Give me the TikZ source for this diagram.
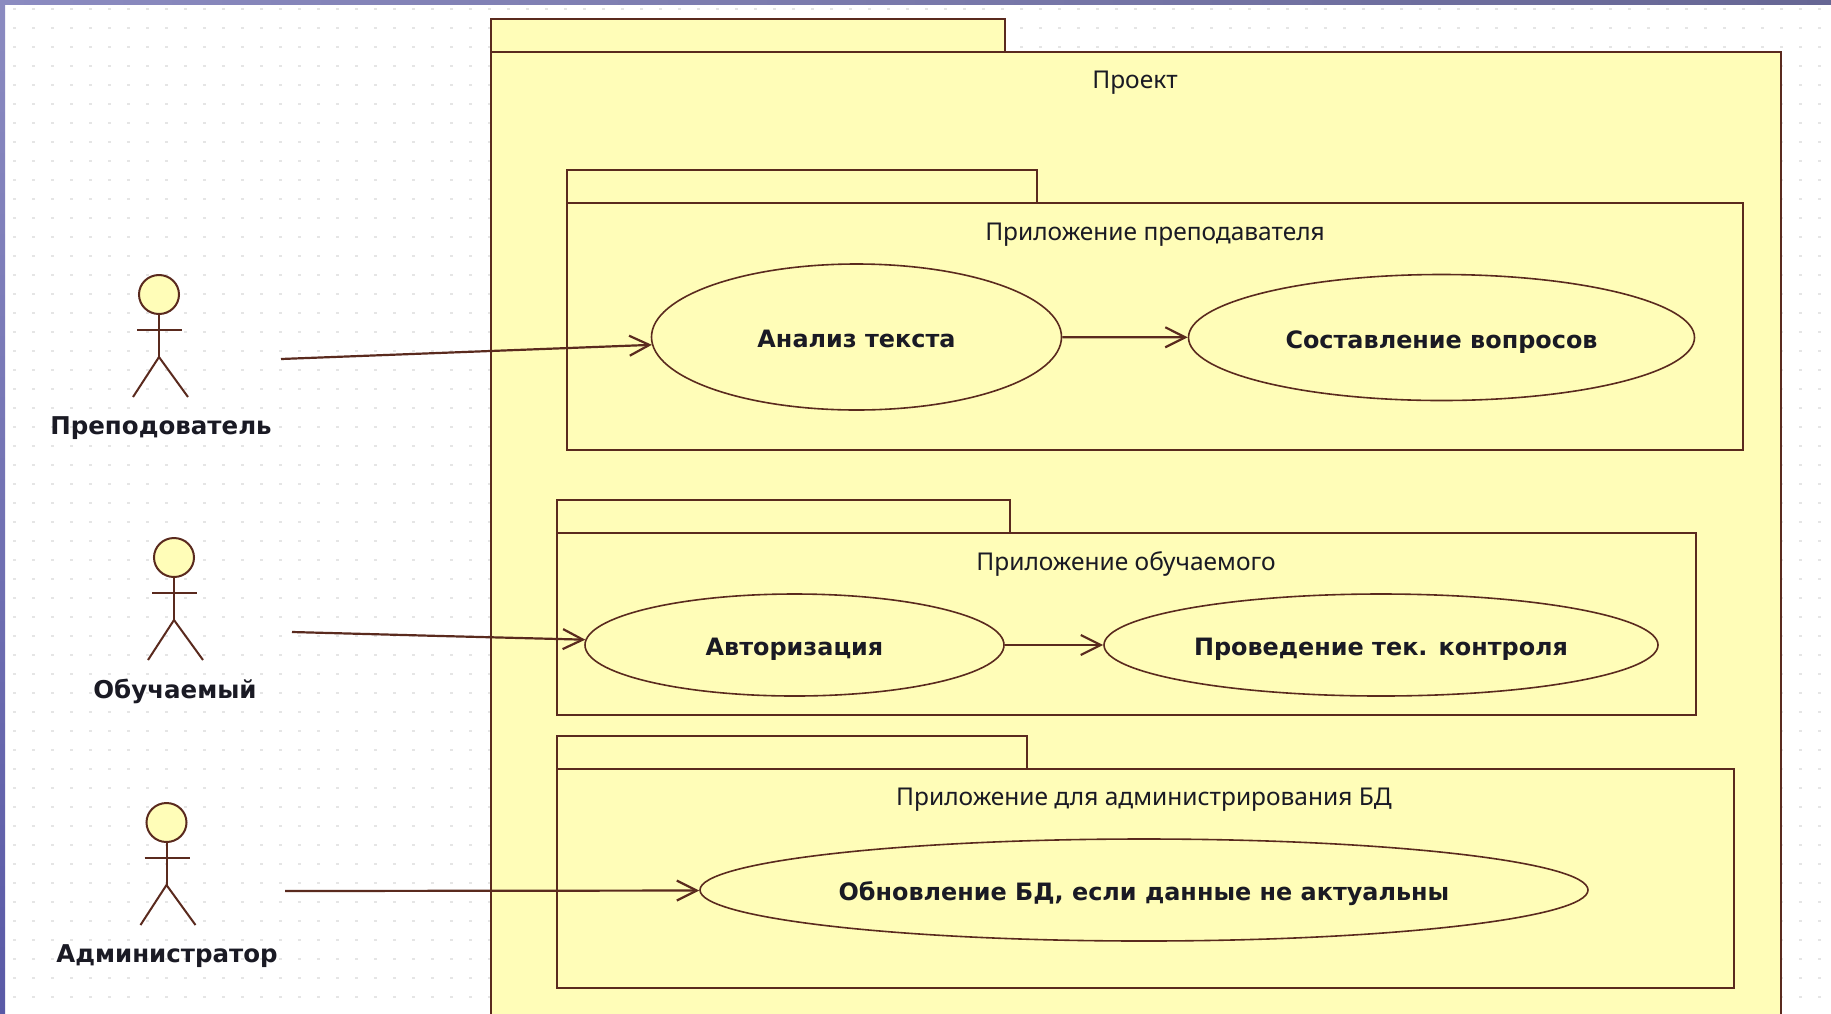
\documentclass[tikz,border=0pt]{standalone}
\usepackage{fontspec}
\setmainfont{Noto Sans}
\newfontfamily\umlbold{DejaVu Sans Bold}
\usetikzlibrary{arrows.meta,shapes.geometric}

\definecolor{umlline}{HTML}{5A2A1E}
\definecolor{umlfill}{HTML}{FFFDB8}
\definecolor{umlink}{HTML}{1A1A24}

\tikzset{
  pkg/.style={draw=umlline, fill=umlfill, line width=2.4pt},
  usecase/.style={ellipse, draw=umlline, fill=umlfill, line width=1.6pt, inner sep=0pt, text height=21pt, text depth=0pt, font=\umlbold\fontsize{23.9}{26}\selectfont, text=umlink},
  title/.style={font=\fontsize{24.5}{28}\selectfont, text=umlink},
  actorname/.style={font=\umlbold\fontsize{24.5}{28}\selectfont, text=umlink},
  limb/.style={draw=umlline, line width=2pt},
  assoc/.style={draw=umlline, line width=2.2pt, -{Straight Barb[length=20pt,width=20pt]}}
}

\begin{document}
\begin{tikzpicture}[x=1pt,y=-1pt]

\clip (0,0) rectangle (1831,1013);
\fill[white] (0,0) rectangle (1831,1013);

% dots of the canvas
\foreach \y in {9,28,...,1009}
  \draw[black!10, line width=2.5pt, dash pattern=on 2.5pt off 16.5pt] (13,\y) -- (1831,\y);

\shade[left color=blue!30!gray!70, right color=blue!30!black!60] (0,0) rectangle (1831,4);
\shade[top color=blue!30!gray!70, bottom color=blue!30!gray] (0,0) rectangle (5,1013);

% packages
\draw[pkg] (491,19) rectangle (1005,52);
\draw[pkg] (491,52) rectangle (1781,1040);
\node[title] (tproject) at (1135,83) {Проект};

\draw[pkg] (567,170) rectangle (1037,203);
\draw[pkg] (567,203) rectangle (1743,450);
\node[title] (tteacher) at (1155,235) {Приложение преподавателя};

\draw[pkg] (557,500) rectangle (1010,533);
\draw[pkg] (557,533) rectangle (1696,715);
\node[title] (tlearner) at (1126,564) {Приложение обучаемого};

\draw[pkg] (557,736) rectangle (1027,769);
\draw[pkg] (557,769) rectangle (1734,988);
\node[title] (tadmin) at (1144,800) {Приложение для администрирования БД};

% use cases
\node[usecase, minimum width=410pt, minimum height=146pt] (u1) at (856.5,337) {Анализ текста};
\node[usecase, minimum width=506pt, minimum height=126pt] (u2) at (1441.5,337.5) {Составление вопросов};
\node[usecase, minimum width=419pt, minimum height=102pt] (u3) at (794.5,645) {Авторизация};
\node[usecase, minimum width=554pt, minimum height=102pt] (u4) at (1381,645) {Проведение тек. контроля};
\node[usecase, minimum width=888pt, minimum height=102pt] (u5) at (1144,890) {Обновление БД, если данные не актуальны};

% actors
\foreach \nm/\x/\y in {a/159/0, b/174/263, c/166.5/528}{
  \begin{scope}[shift={(\x,\y)}]
    \node[ellipse, draw=umlline, fill=umlfill, line width=2pt, minimum width=40pt, minimum height=39pt, inner sep=0pt] (head\nm) at (0,294.5) {};
    \draw[limb] (head\nm) -- (0,357) coordinate (hip\nm);
    \draw[limb] (-22,330) -- (23,330);
    \draw[limb] (-26,397) -- (hip\nm) -- (29,397);
  \end{scope}
}
\node[actorname] (nteacher) at (161,428) {Преподователь};
\node[actorname] (nlearner) at (175,691) {Обучаемый};
\node[actorname] (nadmin) at (167,956) {Администратор};

% free ends of the lines
\coordinate (s1) at (281,359);
\coordinate (s2) at (292,632);
\coordinate (m2) at (441,636);
\coordinate (s3) at (285,891);

\draw[assoc] (s1) -- (u1);
\draw[assoc] (s2) -- (m2) -- (u3);
\draw[assoc] (s3) -- (u5);
\draw[assoc] (u1) -- (u2);
\draw[assoc] (u3) -- (u4);

\end{tikzpicture}
\end{document}
